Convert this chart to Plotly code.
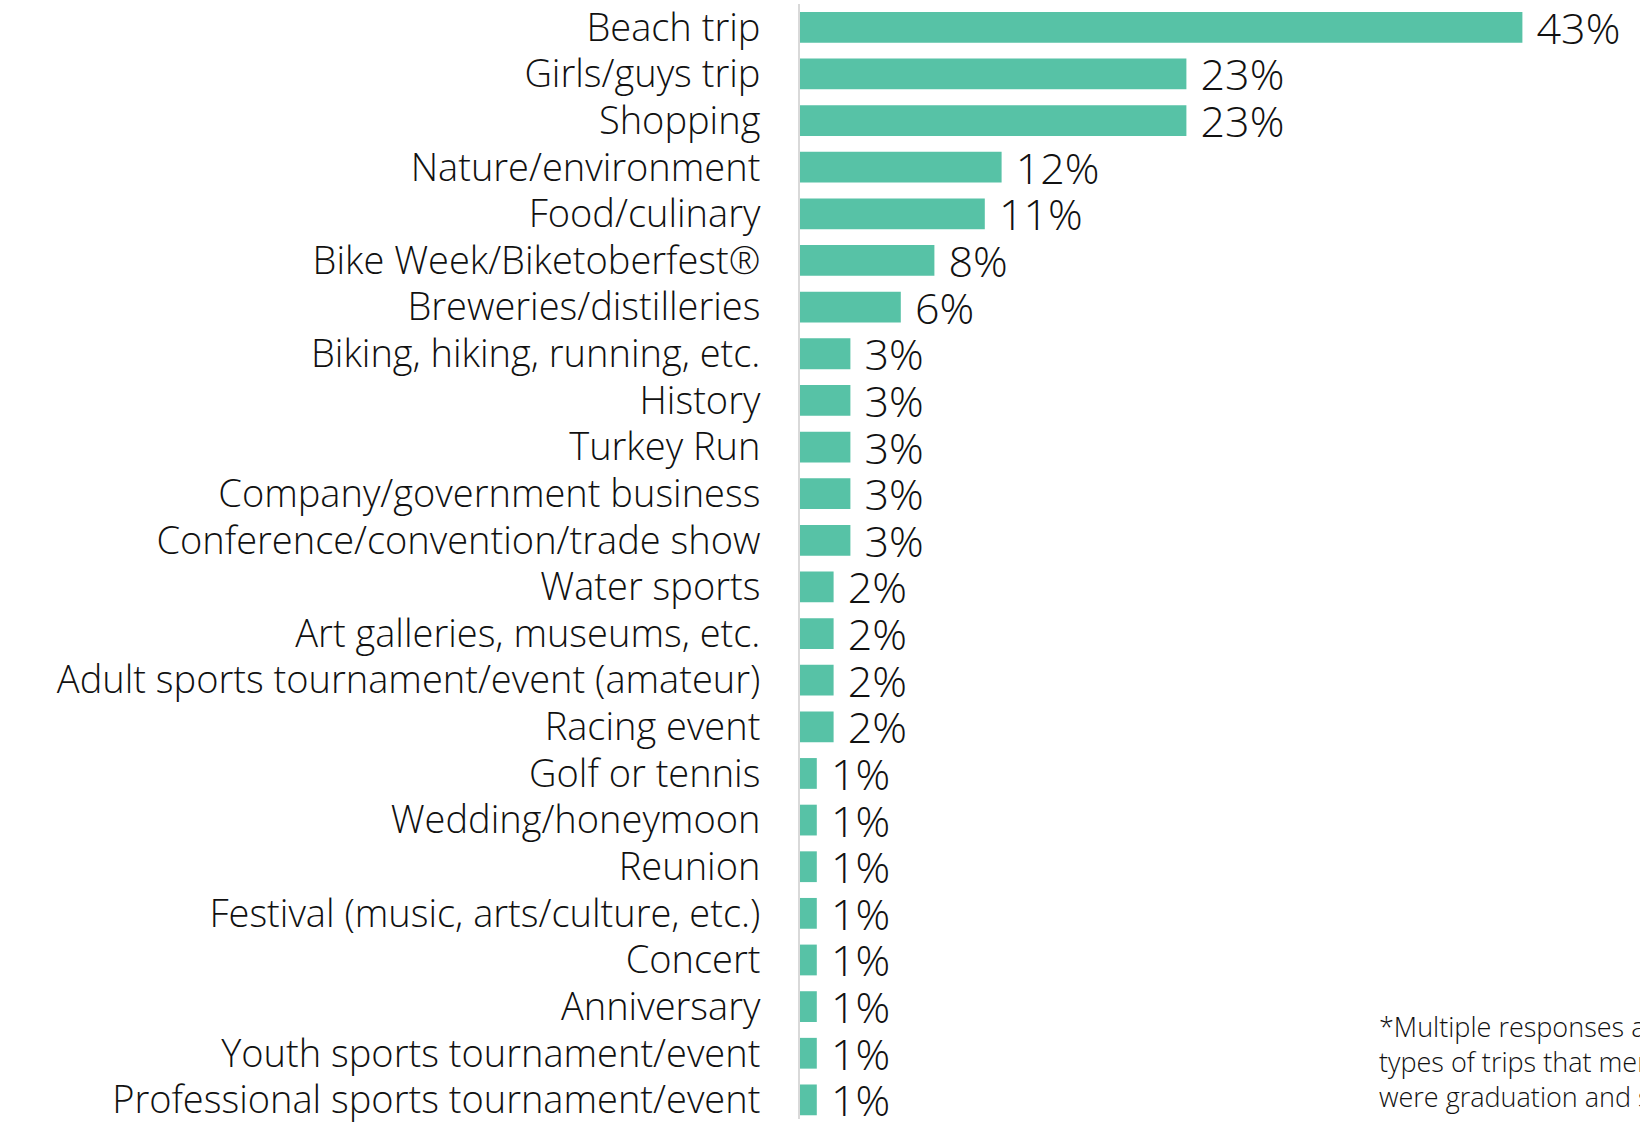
import plotly.graph_objects as go

# trip types and share of respondents (%)
trip_types = [
    'Beach trip', 'Girls/guys trip', 'Shopping', 'Nature/environment',
    'Food/culinary', 'Bike Week/Biketoberfest®', 'Breweries/distilleries',
    'Biking, hiking, running, etc.', 'History', 'Turkey Run',
    'Company/government business', 'Conference/convention/trade show',
    'Water sports', 'Art galleries, museums, etc.',
    'Adult sports tournament/event (amateur)', 'Racing event',
    'Golf or tennis', 'Wedding/honeymoon', 'Reunion',
    'Festival (music, arts/culture, etc.)', 'Concert', 'Anniversary',
    'Youth sports tournament/event', 'Professional sports tournament/event',
]
shares = [43, 23, 23, 12, 11, 8, 6, 3, 3, 3, 3, 3, 2, 2, 2, 2, 1, 1, 1, 1, 1, 1, 1, 1]
share_labels = [f' {v}%' for v in shares]

footnote = ('*Multiple responses allowed. Other<br>'
            'types of trips that mentioned<br>'
            'were graduation and spring break.')

bar_color = '#57c2a6'
font_family = 'Open Sans'
text_color = '#111111'

fig = go.Figure()
fig.add_trace(go.Bar(
    x=shares,
    y=trip_types,
    orientation='h',
    marker=dict(color=bar_color, line=dict(width=0)),
    text=share_labels,
    textposition='outside',
    constraintext='none',
    cliponaxis=False,
    textfont=dict(family=font_family, size=43, color=text_color, weight=300),
    hoverinfo='skip',
))

# a little more than 24 bands so the last bar sits like in the original
fig.update_yaxes(
    range=[len(trip_types) - 0.59, -0.5],
    tickmode='linear',
    tick0=0,
    dtick=1,
    showline=True,
    linecolor='#d9d9d9',
    linewidth=2,
    showgrid=False,
    ticks='',
    ticklabelstandoff=30,
    tickfont=dict(family=font_family, size=38, color=text_color, weight=300),
)
fig.update_xaxes(
    range=[0, 50],
    showticklabels=False,
    showgrid=False,
    zeroline=False,
    showline=False,
)

fig.add_annotation(
    text=footnote,
    xref='paper', yref='paper',
    x=0.6865, y=0.052,
    xanchor='left', yanchor='middle',
    align='left',
    showarrow=False,
    font=dict(family=font_family, size=27, color=text_color, weight=300),
)

fig.update_layout(
    width=1640,
    height=1124,
    margin=dict(l=800, r=0, t=2, b=0),
    bargap=0.34,
    plot_bgcolor='white',
    paper_bgcolor='white',
    showlegend=False,
)

fig.write_html("out.html", config={'displayModeBar': False},
               post_script="document.body.style.margin='0';")
